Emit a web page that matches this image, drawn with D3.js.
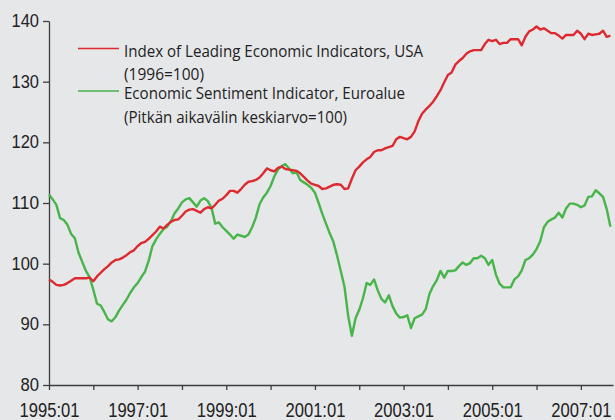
<!DOCTYPE html>
<html>
<head>
<meta charset="utf-8">
<script src="https://cdn.jsdelivr.net/npm/d3@7"></script>
<style>
  body { margin: 0; background: #e6e7e9; }
  svg { display: block; font-family: "Open Sans", "Noto Sans", sans-serif; }
</style>
</head>
<body>
<div id="chart"></div>
<script>
// monthly values, 1995:01 .. 2007:09
const usaLei = [
  97.4, 97.0, 96.5, 96.4, 96.5, 96.8, 97.2, 97.6, 97.6, 97.6, 97.6, 97.7,
  97.1, 97.9, 98.5, 99.1, 99.6, 100.2, 100.6, 100.7, 101.0, 101.4, 101.9, 102.2,
  102.9, 103.4, 103.6, 104.1, 104.7, 105.3, 106.1, 105.8, 106.4, 106.9, 107.2, 107.3,
  107.9, 108.6, 108.9, 109.0, 108.7, 108.4, 109.0, 109.3, 109.1, 109.7, 110.4, 110.7,
  111.3, 112.0, 112.0, 111.7, 112.3, 113.0, 113.5, 113.6, 113.8, 114.2, 114.9, 115.7,
  115.4, 115.2, 115.8, 116.0, 115.6, 115.5, 115.4, 115.3, 114.9, 114.3, 113.7, 113.2,
  113.0, 112.8, 112.3, 112.4, 112.7, 113.0, 113.1, 113.0, 112.3, 112.4, 114.0, 115.4,
  116.0, 116.7, 117.2, 117.6, 118.4, 118.7, 118.7, 119.0, 119.2, 119.4, 120.5, 120.9,
  120.7, 120.5, 120.9, 121.8, 123.5, 124.7, 125.4, 126.0, 126.7, 127.6, 128.6, 129.9,
  131.1, 131.5, 132.8, 133.4, 133.9, 134.6, 135.0, 135.2, 135.2, 135.2, 136.2, 136.9,
  136.7, 136.9, 136.2, 136.4, 136.4, 137.0, 137.0, 137.0, 136.0, 137.4, 138.3, 138.6,
  139.1, 138.6, 138.8, 138.4, 138.0, 138.0, 137.6, 137.1, 137.7, 137.7, 137.7, 138.4,
  137.9, 137.0, 137.9, 137.7, 137.8, 137.9, 138.4, 137.4, 137.6
];

const euroEsi = [
  111.4, 110.6, 109.7, 107.5, 107.2, 106.4, 104.9, 104.2, 101.8, 100.3, 98.8, 97.8,
  95.7, 93.4, 93.1, 92.0, 90.8, 90.5, 91.2, 92.3, 93.2, 94.1, 95.2, 96.1,
  96.8, 97.8, 98.7, 100.5, 102.9, 104.0, 104.9, 105.7, 106.1, 107.0, 108.3, 109.1,
  110.1, 110.6, 110.8, 110.1, 109.4, 110.4, 110.8, 110.3, 109.2, 106.6, 106.8, 106.0,
  105.4, 104.8, 104.1, 104.8, 104.6, 104.4, 104.8, 106.0, 107.6, 109.8, 110.9, 111.7,
  112.8, 114.4, 115.5, 116.1, 116.4, 115.7, 114.9, 115.1, 113.8, 113.4, 113.0, 112.5,
  111.7, 110.0, 108.2, 106.6, 105.0, 103.6, 101.3, 98.8, 96.2, 91.4, 88.1, 91.0,
  92.4, 94.3, 96.8, 96.5, 97.4, 95.6, 94.2, 93.6, 94.8, 93.0, 91.8, 91.1,
  91.2, 91.5, 89.4, 91.0, 91.3, 91.6, 92.5, 95.0, 96.3, 97.3, 98.8, 97.7,
  98.8, 98.8, 98.9, 99.6, 100.2, 99.8, 100.1, 100.9, 100.9, 101.3, 100.9, 99.8,
  100.6, 98.2, 96.7, 96.1, 96.1, 96.1, 97.4, 97.9, 98.9, 100.6, 100.9, 101.5,
  102.4, 103.7, 106.0, 106.9, 107.3, 107.6, 108.4, 107.6, 109.1, 109.9, 109.9, 109.7,
  109.3, 109.6, 111.0, 111.1, 112.1, 111.6, 111.0, 109.0, 106.1
];

const years = d3.range(1995, 2008);          // one tick per year
const yTicks = [80, 90, 100, 110, 120, 130, 140];
const legendLabels = [
  "Index of Leading Economic Indicators, USA",
  "(1996=100)",
  "Economic Sentiment Indicator, Euroalue",
  "(Pitkän aikavälin keskiarvo=100)"
];

const width = 615, height = 420;
const red = "#dc2a30", green = "#47b549", axisCol = "#3e3e40";

const svg = d3.select("#chart").append("svg")
  .attr("width", width)
  .attr("height", height);

// month index -> x
const x = d3.scaleLinear().domain([0, 152.7]).range([49, 613]);
const y = d3.scaleLinear().domain([80, 140]).range([385, 21]);

// y axis
const yAxis = svg.append("g")
  .attr("transform", "translate(49,0)")
  .call(d3.axisLeft(y).tickValues(yTicks).tickSize(6).tickPadding(4).tickSizeOuter(0));
yAxis.select(".domain").attr("stroke", axisCol).attr("stroke-width", 1.3);
yAxis.selectAll(".tick line").attr("stroke", axisCol).attr("stroke-width", 1.3);
yAxis.selectAll(".tick text")
  .attr("fill", "#222")
  .style("font-size", "17.5px")
  .attr("textLength", d => d >= 100 ? 27.5 : 18.5)
  .attr("lengthAdjust", "spacingAndGlyphs");

// x axis, ticks every year, labels every other year
const xAxis = svg.append("g")
  .attr("transform", "translate(0,385)")
  .call(d3.axisBottom(x)
    .tickValues(years.map(yr => (yr - 1995) * 12))
    .tickFormat((d, i) => (years[i] % 2 === 1) ? years[i] + ":01" : "")
    .tickSize(5)
    .tickSizeOuter(0));
xAxis.select(".domain").attr("stroke", axisCol).attr("stroke-width", 1.3);
xAxis.selectAll(".tick line").attr("stroke", axisCol).attr("stroke-width", 1.3);
xAxis.selectAll(".tick text")
  .attr("fill", "#222")
  .attr("y", 32)
  .attr("dy", 0)
  .style("font-size", "20px")
  .attr("textLength", function () { return this.textContent ? 60 : null; })
  .attr("lengthAdjust", "spacingAndGlyphs");

// lines
const line = d3.line()
  .x((d, i) => x(i))
  .y(d => y(d));

svg.append("path")
  .datum(euroEsi)
  .attr("fill", "none")
  .attr("stroke", green)
  .attr("stroke-width", 2.4)
  .attr("stroke-linejoin", "round")
  .attr("d", line);

svg.append("path")
  .datum(usaLei)
  .attr("fill", "none")
  .attr("stroke", red)
  .attr("stroke-width", 2.4)
  .attr("stroke-linejoin", "round")
  .attr("d", line);

// legend
const legend = svg.append("g");
legend.append("line")
  .attr("x1", 78).attr("x2", 119).attr("y1", 48.5).attr("y2", 48.5)
  .attr("stroke", red).attr("stroke-width", 1.5);
legend.append("line")
  .attr("x1", 78).attr("x2", 119).attr("y1", 91).attr("y2", 91)
  .attr("stroke", green).attr("stroke-width", 1.5);

const legendRows = [
  { text: legendLabels[0], y: 56.5, w: 299 },
  { text: legendLabels[1], y: 80, w: 80 },
  { text: legendLabels[2], y: 98.5, w: 281 },
  { text: legendLabels[3], y: 123, w: 223 }
];
legend.selectAll("text")
  .data(legendRows)
  .enter()
  .append("text")
  .attr("x", 124)
  .attr("y", d => d.y)
  .attr("fill", "#222")
  .style("font-size", "16px")
  .attr("textLength", d => d.w)
  .attr("lengthAdjust", "spacingAndGlyphs")
  .text(d => d.text);
</script>
</body>
</html>
